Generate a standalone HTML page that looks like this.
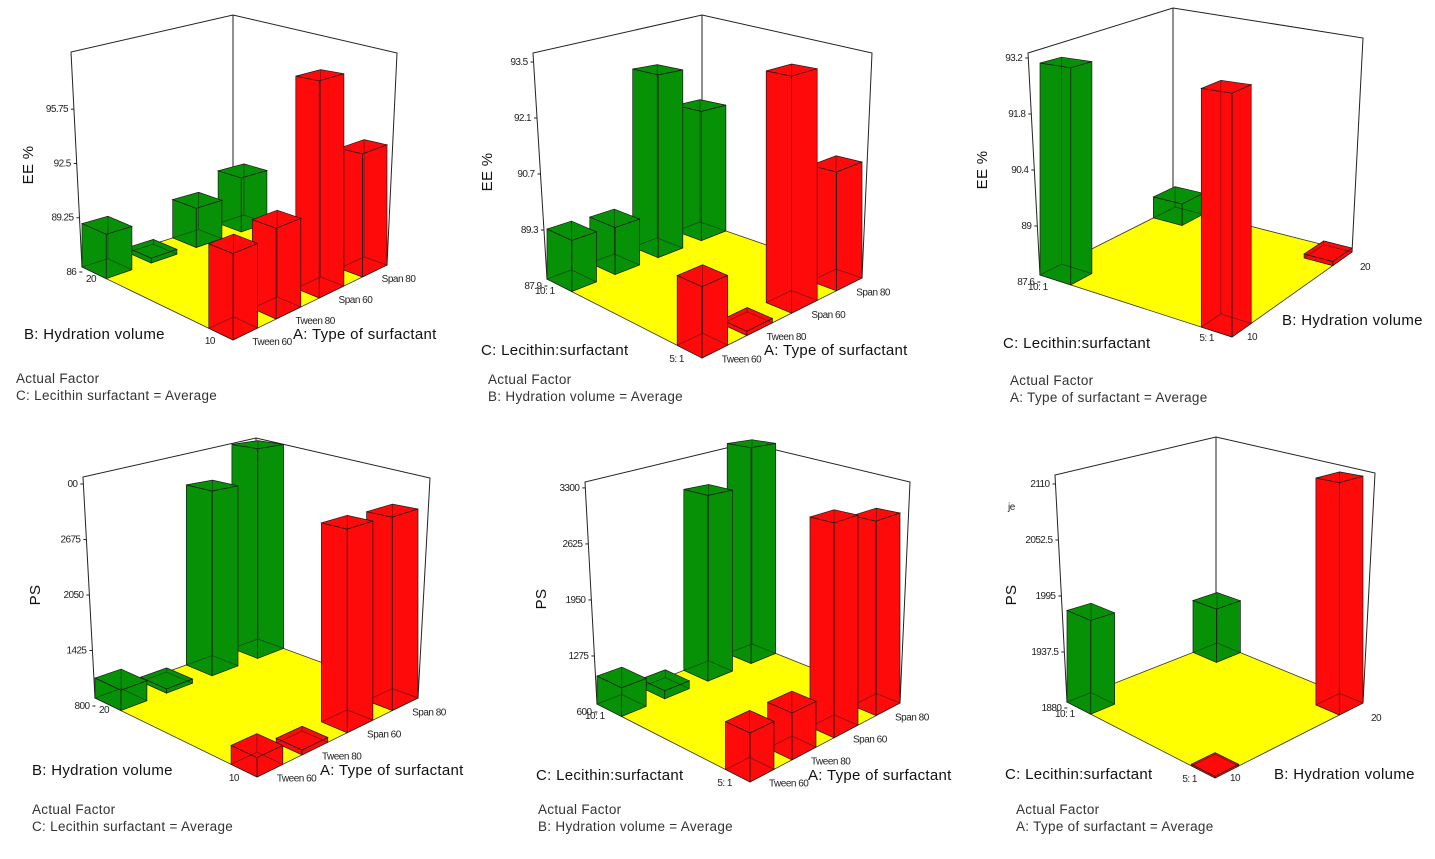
<!DOCTYPE html>
<html><head><meta charset="utf-8">
<style>
html,body{margin:0;padding:0;background:#fff;}
svg{display:block;font-family:"Liberation Sans",sans-serif;}
.tick{font-size:10px;letter-spacing:-0.6px;fill:#222;}
.cat{font-size:10px;letter-spacing:-0.5px;fill:#222;}
.title{font-size:15px;fill:#111;letter-spacing:0.3px;}
.af{font-size:13.5px;fill:#333;letter-spacing:0.3px;}
</style></head>
<body>
<svg id="chart" width="1435" height="859" viewBox="0 0 1435 859"></svg>
<script>
// ---- Data ----
const typeCats = ['Tween 60','Tween 80','Span 60','Span 80'];
const hydrCats = ['10','20'];
const lecCats = ['5: 1','10: 1'];

const p1Ticks = [86, 89.25, 92.5, 95.75];
const p1Green = [88.6, 86.3, 88.5, 89.6];    // B = 20
const p1Red = [90.5, 90.9, 98.2, 93.2];      // B = 10

const p2Ticks = [87.9, 89.3, 90.7, 92.1, 93.5];
const p2Green = [89.15, 89.1, 92.76, 91.5];  // C = 10:1
const p2Red = [89.45, 88.0, 93.46, 90.8];    // C = 5:1

const p3Ticks = [87.6, 89, 90.4, 91.8, 93.2];
const p3Green = [92.9, 88.2];                // C = 10:1 ; B = 10, 20
const p3Red = [92.9, 87.7];                  // C = 5:1  ; B = 10, 20

const p4Ticks = [800, 1425, 2050, 2675, 3300];
const p4TickLabels = ['800','1425','2050','2675','00'];
const p4Green = [1025, 850, 3014, 3429];     // B = 20
const p4Red = [990, 850, 2951, 2928];        // B = 10

const p5Ticks = [600, 1275, 1950, 2625, 3300];
const p5Green = [937, 700, 2981, 3496];      // C = 10:1
const p5Red = [1113, 1111, 3028, 2889];      // C = 5:1

const p6Ticks = [1880, 1937.5, 1995, 2052.5, 2110];
const p6Green = [1974, 1941];                // C = 10:1 ; B = 10, 20
const p6Red = [1881, 2113];                  // C = 5:1  ; B = 10, 20

// ---- Rendering ----
const NS = 'http://www.w3.org/2000/svg';
const svg = document.getElementById('chart');
function mk(tag, attrs, parent){
  const e = document.createElementNS(NS, tag);
  for (const k in attrs) e.setAttribute(k, attrs[k]);
  (parent || svg).appendChild(e);
  return e;
}
function pts(a){ return a.map(p => p[0].toFixed(1)+','+p[1].toFixed(1)).join(' '); }
const HALF = 0.08;
function tPos(idx, n){ return 0.08 + idx/(n-1)*0.84; }

function panel(cfg, ticks, tickLabels, greenVals, redVals, rightCats, leftCats, rightNumeric){
  const g = mk('g', {});
  
  
  const F = cfg.F, L = cfg.L, R = cfg.R, B = cfg.B;
  const P = (a, b, z) => {
    const x = F[0]*(1-a)*(1-b) + R[0]*a*(1-b) + L[0]*(1-a)*b + B[0]*a*b;
    const y = F[1]*(1-a)*(1-b) + R[1]*a*(1-b) + L[1]*(1-a)*b + B[1]*a*b;
    const s = 1.15 - 0.15*(a + b);
    return [x, y - z*s];
  };
  const zpx = v => (v - cfg.zmin) * cfg.k;

  const walls = mk('polyline', {points: pts([L, cfg.LT, cfg.BT, cfg.RT, R]), fill:'none', stroke:'#222', 'stroke-width':1}, g);
  
  
  const back = mk('line', {x1:cfg.BT[0], y1:cfg.BT[1], x2:cfg.BT[0], y2:B[1], stroke:'#222', 'stroke-width':1}, g);
  
  

  const floor = mk('polygon', {points: pts([F, L, B, R]), fill:'#ffff00', stroke:'#333', 'stroke-width':0.8}, g);
  
  

  ticks.forEach((v, i) => {
    const y = cfg.y0 - zpx(v);
    const f = (L[1] - y) / (L[1] - cfg.LT[1]);
    const x = L[0] + (cfg.LT[0] - L[0]) * f;
    const tm = mk('line', {x1:x-3, y1:y, x2:x, y2:y, stroke:'#222', 'stroke-width':1}, g);
    
    
    const t = mk('text', {x:x-6, y:y+3, 'text-anchor':'end', class:'tick'}, g);
    t.textContent = tickLabels ? tickLabels[i] : String(v);
    
    
  });

  const nR = rightCats.length;
  const bars = [];
  [redVals, greenVals].forEach((vals, j) => {
    vals.forEach((v, i) => bars.push({tr: tPos(i, nR), tl: tPos(j, 2), v: v, color: j ? '#079107' : '#ff0a0a', i: i, j: j}));
  });
  bars.forEach(b => { b.depth = P(b.tr, b.tl, 0)[1]; });
  bars.sort((a, b) => a.depth - b.depth);
  bars.forEach(b => {
    const H = Math.max(zpx(b.v), 1.5);
    const c = (sr, sl, z) => P(b.tr + sr*HALF, b.tl + sl*HALF, z);
    const bg = mk('g', {}, g);
    
    
    const st = {stroke:'#1a1a1a', 'stroke-width':0.7, fill:b.color};
    mk('polygon', Object.assign({points: pts([c(-1,-1,0), c(1,-1,0), c(1,-1,H), c(-1,-1,H)])}, st), bg);
    mk('polygon', Object.assign({points: pts([c(-1,-1,0), c(-1,1,0), c(-1,1,H), c(-1,-1,H)])}, st), bg);
    mk('polygon', Object.assign({points: pts([c(-1,-1,H), c(1,-1,H), c(1,1,H), c(-1,1,H)])}, st), bg);
    const hid = [[c(1,1,0), c(1,1,H)], [c(1,1,0), c(1,-1,0)], [c(1,1,0), c(-1,1,0)]];
    hid.forEach(s => mk('line', {x1:s[0][0], y1:s[0][1], x2:s[1][0], y2:s[1][1], stroke:'#1a1a1a', 'stroke-width':0.7, opacity:0.6}, bg));
  });

  rightCats.forEach((lab, i) => {
    let x, y;
    if (rightNumeric) {
      if (i === 0) { x = F[0]+15; y = F[1]+3; } else { x = R[0]+8; y = R[1]+18; }
    } else {
      const p = P(tPos(i, rightCats.length), 0, 0);
      x = p[0] + 7; y = p[1] + 11;
    }
    const tx = mk('text', {x:x, y:y, 'text-anchor':'start', class:'cat'}, g);
    tx.textContent = lab;
    
    
  });
  leftCats.forEach((lab, j) => {
    let x, y, anchor;
    if (j === 0) { x = F[0]-18; y = F[1]+4; anchor = 'end'; }
    else { x = L[0] + (lab.length > 2 ? -12 : 4); y = L[1]+15; anchor = 'start'; }
    const tx = mk('text', {x:x, y:y, 'text-anchor':anchor, class:'cat'}, g);
    tx.textContent = lab;
    
    
  });

  const lt = mk('text', {x:cfg.lt[0], y:cfg.lt[1], class:'title'}, g);
  lt.textContent = cfg.ltText;
  
  
  const rt = mk('text', {x:cfg.rt[0], y:cfg.rt[1], class:'title'}, g);
  rt.textContent = cfg.rtText;
  
  
  const yt = mk('text', {x:cfg.yt[0], y:cfg.yt[1], class:'title', transform:'rotate(-90 '+cfg.yt[0]+' '+cfg.yt[1]+')', 'text-anchor':'middle'}, g);
  yt.textContent = cfg.ytText;
  
  
  const a1 = mk('text', {x:cfg.af[0], y:cfg.af[1], class:'af'}, g);
  a1.textContent = 'Actual Factor';
  
  
  const a2 = mk('text', {x:cfg.af[0], y:cfg.af[1]+17, class:'af'}, g);
  a2.textContent = cfg.afText;
  
  
}

panel({name:'ee-type-vs-hydration', L:[82,267], F:[233,340], R:[387,265], B:[244,215], LT:[71,52], BT:[233,15], RT:[397,53],
  zmin:86, k:16.7, y0:272, lt:[24,339], ltText:'B: Hydration volume', rt:[293,339], rtText:'A: Type of surfactant',
  yt:[33,165], ytText:'EE %', af:[16,383], afText:'C: Lecithin surfactant = Average'},
  p1Ticks, null, p1Green, p1Red, typeCats, hydrCats, false);

panel({name:'ee-type-vs-lecithin', L:[547,279], F:[702,358], R:[862,278], B:[700,222], LT:[533,53], BT:[702,15], RT:[872,53],
  zmin:87.9, k:40, y0:286, lt:[481,355], ltText:'C: Lecithin:surfactant', rt:[764,355], rtText:'A: Type of surfactant',
  yt:[492,172], ytText:'EE %', af:[488,384], afText:'B: Hydration volume = Average'},
  p2Ticks, null, p2Green, p2Red, typeCats, lecCats, false);

panel({name:'ee-hydration-vs-lecithin', L:[1040,275], F:[1232,337], R:[1352,252], B:[1175,207], LT:[1028,53], BT:[1173,8], RT:[1363,38],
  zmin:87.6, k:40, y0:282, lt:[1003,348], ltText:'C: Lecithin:surfactant', rt:[1282,325], rtText:'B: Hydration volume',
  yt:[987,170], ytText:'EE %', af:[1010,385], afText:'A: Type of surfactant = Average'},
  p3Ticks, null, p3Green, p3Red, hydrCats, lecCats, true);

panel({name:'ps-type-vs-hydration', L:[95,698], F:[257,777], R:[418,698], B:[258,639], LT:[83,477], BT:[256,438], RT:[430,478],
  zmin:800, k:0.0888, y0:706, lt:[32,775], ltText:'B: Hydration volume', rt:[320,775], rtText:'A: Type of surfactant',
  yt:[40,595], ytText:'PS', af:[32,814], afText:'C: Lecithin surfactant = Average'},
  p4Ticks, p4TickLabels, p4Green, p4Red, typeCats, hydrCats, false);

panel({name:'ps-type-vs-lecithin', L:[597,704], F:[750,782], R:[900,703], B:[752,644], LT:[585,482], BT:[747,443], RT:[910,482],
  zmin:600, k:0.083, y0:712, lt:[536,780], ltText:'C: Lecithin:surfactant', rt:[808,780], rtText:'A: Type of surfactant',
  yt:[546,599], ytText:'PS', af:[538,814], afText:'B: Hydration volume = Average'},
  p5Ticks, null, p5Green, p5Red, typeCats, lecCats, false);

panel({name:'ps-hydration-vs-lecithin', L:[1067,702], F:[1215,778], R:[1363,703], B:[1217,643], LT:[1055,475], BT:[1216,437], RT:[1375,473],
  zmin:1880, k:0.974, y0:708, lt:[1005,779], ltText:'C: Lecithin:surfactant', rt:[1274,779], rtText:'B: Hydration volume',
  yt:[1016,595], ytText:'PS', af:[1016,814], afText:'A: Type of surfactant = Average'},
  p6Ticks, null, p6Green, p6Red, hydrCats, lecCats, true);

const stray = mk('text', {x:1008, y:510, class:'cat'});
stray.textContent = 'je';


</script>
</body></html>
